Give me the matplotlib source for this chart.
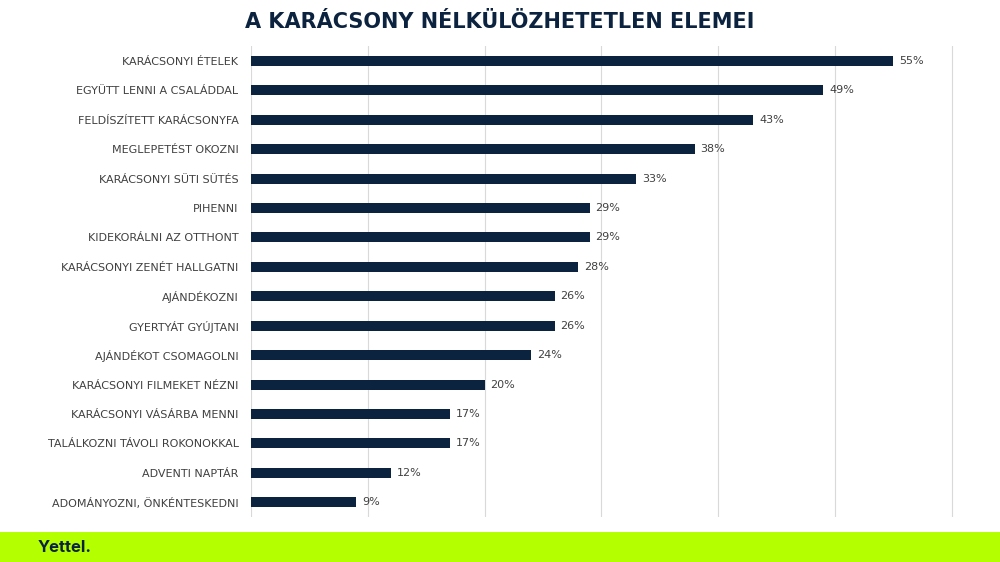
import matplotlib.pyplot as plt

categories = [
    "KARÁCSONYI ÉTELEK", "EGYÜTT LENNI A CSALÁDDAL", "FELDÍSZÍTETT KARÁCSONYFA",
    "MEGLEPETÉST OKOZNI", "KARÁCSONYI SÜTI SÜTÉS", "PIHENNI", "KIDEKORÁLNI AZ OTTHONT",
    "KARÁCSONYI ZENÉT HALLGATNI", "AJÁNDÉKOZNI", "GYERTYÁT GYÚJTANI",
    "AJÁNDÉKOT CSOMAGOLNI", "KARÁCSONYI FILMEKET NÉZNI", "KARÁCSONYI VÁSÁRBA MENNI",
    "TALÁLKOZNI TÁVOLI ROKONOKKAL", "ADVENTI NAPTÁR", "ADOMÁNYOZNI, ÖNKÉNTESKEDNI",
]
values = [55, 49, 43, 38, 33, 29, 29, 28, 26, 26, 24, 20, 17, 17, 12, 9]

navy = "#0c2340"
fig = plt.figure(figsize=(10, 5.62), dpi=100)
ax = fig.add_axes([0.251, 0.08, 0.703, 0.838])

y = list(range(len(values)))
ax.barh(y, values, height=0.34, color=navy, zorder=3)
for yi, v in zip(y, values):
    ax.text(v + 0.5, yi, f"{v}%", va="center", ha="left", fontsize=8,
            color="#404040", family="DejaVu Sans")
ax.set_yticks(y)
ax.set_yticklabels(categories, fontsize=8, color="#404040", family="DejaVu Sans")
ax.tick_params(axis="y", length=0, pad=9)
ax.set_ylim(len(values) - 0.5, -0.5)
ax.set_xlim(0, 60.2)
ax.set_xticks(range(0, 61, 10))
ax.tick_params(axis="x", length=0, labelbottom=False)
ax.grid(axis="x", color="#d9d9d9", linewidth=0.8, zorder=0)
for s in ax.spines.values():
    s.set_visible(False)

fig.text(0.5, 0.961, "A KARÁCSONY NÉLKÜLÖZHETETLEN ELEMEI", ha="center", va="center",
         fontsize=15, fontweight="bold", color=navy, family="DejaVu Sans")

band = fig.add_axes([0, 0, 1, 0.053])
band.set_facecolor("#b4ff00")
band.set_xticks([])
band.set_yticks([])
for s in band.spines.values():
    s.set_visible(False)
band.text(0.038, 0.5, "Yettel.", ha="left", va="center", fontsize=12,
          fontweight="bold", color=navy, family="Inter", transform=band.transAxes)

fig.savefig("out.png", dpi=100)
